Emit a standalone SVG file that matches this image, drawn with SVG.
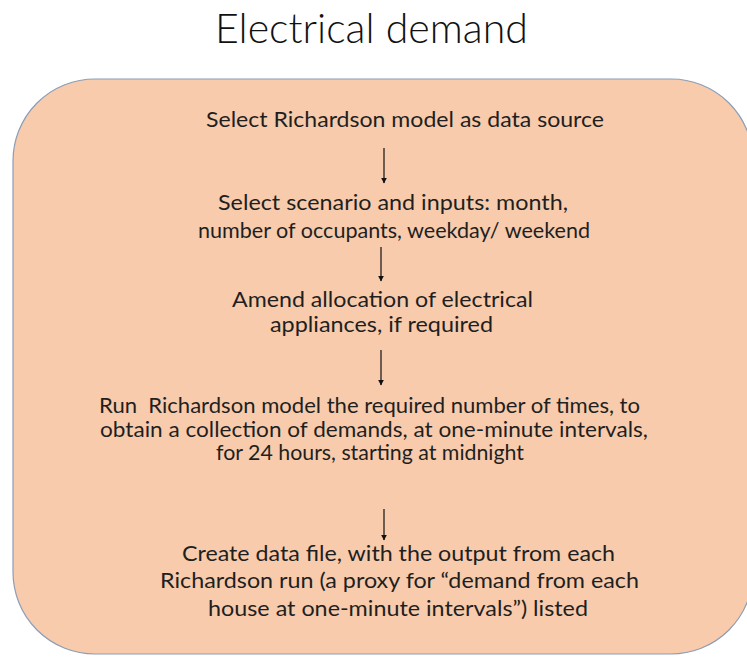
<svg xmlns="http://www.w3.org/2000/svg" width="747" height="657" viewBox="0 0 747 657">
  <style>
    .title { font-family: Lato, "Open Sans", "Liberation Sans", sans-serif; font-size: 41px; font-weight: 300; fill: #111111; }
    .step { font-family: Lato, "Open Sans", "Liberation Sans", sans-serif; font-size: 21px; fill: #1f1f1f; text-anchor: start; }
    .panel { fill: #F7CBAC; stroke: #8C9DB5; stroke-width: 1.2; }
    .link { stroke: #111; stroke-width: 1.2; fill: none; marker-end: url(#head); }
  </style>
  <defs>
    <marker id="head" viewBox="0 0 10 10" refX="9" refY="5" markerWidth="6" markerHeight="6" markerUnits="userSpaceOnUse" orient="auto">
      <path d="M0,0 L10,5 L0,10 Z" fill="#111"/>
    </marker>
  </defs>

  <rect width="747" height="657" fill="#ffffff"/>

  <g id="title">
    <text class="title" x="215" y="43" textLength="313" lengthAdjust="spacingAndGlyphs">Electrical demand</text>
  </g>

  <g id="panel">
    <rect class="panel" x="13" y="79" width="740" height="575" rx="82" ry="82"/>
  </g>

  <g id="step-source">
    <text class="step" x="206" y="127" textLength="398" lengthAdjust="spacingAndGlyphs">Select Richardson model as data source</text>
  </g>

  <g id="step-scenario">
    <text class="step" x="218" y="210" textLength="350" lengthAdjust="spacingAndGlyphs">Select scenario and inputs: month,</text>
    <text class="step" x="198" y="238" textLength="392" lengthAdjust="spacingAndGlyphs">number of occupants, weekday/ weekend</text>
  </g>

  <g id="step-appliances">
    <text class="step" x="232" y="307" textLength="301" lengthAdjust="spacingAndGlyphs">Amend allocation of electrical</text>
    <text class="step" x="270" y="332" textLength="223" lengthAdjust="spacingAndGlyphs">appliances, if required</text>
  </g>

  <g id="step-run">
    <text class="step" x="99" y="413" textLength="541" lengthAdjust="spacingAndGlyphs" xml:space="preserve">Run  Richardson model the required number of times, to</text>
    <text class="step" x="100" y="437" textLength="548" lengthAdjust="spacingAndGlyphs">obtain a collection of demands, at one-minute intervals,</text>
    <text class="step" x="216" y="460" textLength="308" lengthAdjust="spacingAndGlyphs">for 24 hours, starting at midnight</text>
  </g>

  <g id="step-output">
    <text class="step" x="182" y="561" textLength="433" lengthAdjust="spacingAndGlyphs">Create data file, with the output from each</text>
    <text class="step" x="160" y="588" textLength="479" lengthAdjust="spacingAndGlyphs">Richardson run (a proxy for “demand from each</text>
    <text class="step" x="208" y="616" textLength="380" lengthAdjust="spacingAndGlyphs">house at one-minute intervals”) listed</text>
  </g>

  <g id="connectors">
    <line class="link" x1="384" y1="148" x2="384" y2="183"/>
    <line class="link" x1="381" y1="247" x2="381" y2="281"/>
    <line class="link" x1="381" y1="350" x2="381" y2="385"/>
    <line class="link" x1="384" y1="509" x2="384" y2="540"/>
  </g>
</svg>
